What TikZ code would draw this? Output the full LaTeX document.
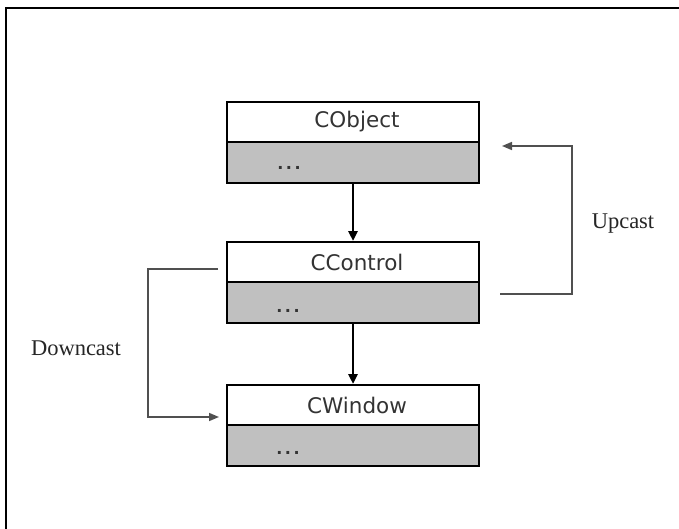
\documentclass[tikz,border=0pt]{standalone}
\usepackage{fontspec}
\setmainfont{Liberation Serif}
\newfontfamily\boxfont{DejaVu Sans}
\usetikzlibrary{arrows.meta}
\definecolor{rowgray}{RGB}{192,192,192}
\definecolor{linegray}{RGB}{80,80,80}
\tikzset{
  namebox/.style={draw=black, line width=2pt, fill=white, minimum width=252pt, minimum height=40pt, inner sep=0pt, font=\boxfont\fontsize{21.5}{24}\selectfont, text=black!80},
  graybox/.style={draw=black, line width=2pt, fill=rowgray, minimum width=252pt, minimum height=41pt, inner sep=0pt},
  dotstext/.style={inner sep=0pt, font=\boxfont\bfseries\fontsize{16}{18}\selectfont, text=black!80},
  inherit/.style={draw=black, line width=2.6pt, -{Triangle[length=10pt,width=9pt]}},
  castline/.style={draw=linegray, line width=1.6pt, -{Triangle[length=10pt,width=8pt]}},
  castlabel/.style={inner sep=0pt, font=\fontsize{22.5}{26}\selectfont, text=black!85},
}
\newcommand{\mydots}{.\kern2.5pt.\kern2.5pt.}
\begin{document}
\begin{tikzpicture}[x=1pt,y=-1pt]
\useasboundingbox (0,0) rectangle (679,529);
\fill[white] (0,0) rectangle (679,529);
% frame (top and left edges)
\coordinate (ftr) at (679,8);
\coordinate (ftl) at (6,8);
\coordinate (fbl) at (6,529);
\draw[line width=2pt] (ftr) -- (ftl) -- (fbl);
% CObject
\node[namebox] (cobj) at (353,122) {\hspace*{8pt}CObject};
\node[graybox] (cobjb) at (353,162.5) {};
\node[dotstext] (cobjd) at (289,168) {\mydots};
% CControl
\node[namebox] (cctl) at (353,262) {\hspace*{8pt}CControl};
\node[graybox] (cctlb) at (353,302.5) {};
\node[dotstext] (cctld) at (288,311) {\mydots};
% CWindow
\node[namebox] (cwin) at (353,405) {\hspace*{8pt}CWindow};
\node[graybox] (cwinb) at (353,445.5) {};
\node[dotstext] (cwind) at (288,453) {\mydots};
% inheritance arrows
\draw[inherit] (cobjb.south) -- (cctl.north);
\draw[inherit] (cctlb.south) -- (cwin.north);
% Upcast
\coordinate (ustart) at (500,294);
\coordinate (uend) at (502,146);
\draw[castline] (ustart) -- (572,294) -- (572,146) -- (uend);
\node[castlabel] (up) at (623,224) {Upcast};
% Downcast
\coordinate (dstart) at (218,269);
\coordinate (dend) at (219,417);
\draw[castline] (dstart) -- (148,269) -- (148,417) -- (dend);
\node[castlabel] (down) at (76,348) {Downcast};
\end{tikzpicture}
\end{document}
